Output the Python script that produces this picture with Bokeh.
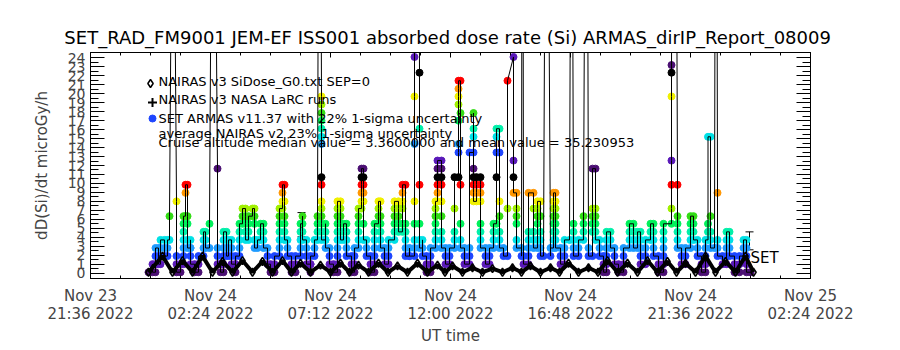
from bokeh.plotting import figure
from bokeh.models import FixedTicker, LinearAxis, Range1d, Label, Whisker, ColumnDataSource, TeeHead
from bokeh.embed import file_html
from bokeh.resources import INLINE

FONT = "DejaVu Sans"

# ---------------- data ----------------
# time axis: hours since 2022-11-23 21:36 UT
x_ticks = [0, 4.8, 9.6, 14.4, 19.2, 24, 28.8]
x_tick_labels = ["Nov 23\n21:36 2022", "Nov 24\n02:24 2022", "Nov 24\n07:12 2022",
                 "Nov 24\n12:00 2022", "Nov 24\n16:48 2022", "Nov 24\n21:36 2022",
                 "Nov 25\n02:24 2022"]
y_ticks = list(range(0, 25))

# NAIRAS v3 SiDose (orbit zig-zag)
nai_t = [2.32, 2.88, 3.28, 3.68, 4.08, 4.48, 4.88, 5.28, 5.68, 6.08, 6.48, 6.88, 7.28, 7.68,
         8.04, 8.4, 8.8, 9.2, 9.6, 10.0, 10.36, 10.72, 11.12, 11.52, 11.9, 12.28, 12.68, 13.08,
         13.48, 13.88, 14.18, 14.48, 14.88, 15.28, 15.68, 16.08, 16.48, 16.88, 17.24, 17.6, 18.0,
         18.4, 18.76, 19.12, 19.52, 19.92, 20.3, 20.68, 21.08, 21.48, 21.88, 22.28, 22.68, 23.08,
         23.44, 23.8, 24.2, 24.6, 25.0, 25.4, 25.8, 26.2, 26.52]
nai_v = [0.1, 1.9, 0.1, 1.4, 0.1, 1.9, 0.1, 1.3, 0.1, 1.4, 0.1, 1.3, 0.1, 1.4, 0.1, 1.1, 0.1,
         0.9, 0.1, 1.1, 0.1, 0.9, 0.1, 1.1, 0.1, 0.8, 0.1, 1.1, 0.1, 0.9, 0.1, 0.8, 0.1, 0.6,
         0.1, 0.5, 0.1, 0.6, 0.1, 0.8, 0.1, 0.6, 0.1, 1.1, 0.1, 0.6, 0.1, 1.4, 0.1, 1.1, 0.1,
         1.4, 0.1, 1.3, 0.1, 1.1, 0.1, 1.9, 0.1, 1.3, 0.1, 1.9, 0.1]

# SET ARMAS samples, grouped by time stamp (hours), values in microGy/h
arm_col_t = [2.32, 2.48, 2.6, 2.72, 2.8, 2.96, 3.08, 3.16, 3.3, 3.44, 3.6,
             3.72, 3.8, 3.88, 4.0, 4.16, 4.32,
             4.52, 4.6, 4.76, 4.9, 5.08, 5.2,
             5.32, 5.44, 5.52, 5.64, 5.8, 5.96,
             6.08, 6.2, 6.32, 6.48, 6.56, 6.68, 6.8, 6.92, 7.08, 7.2, 7.36,
             7.56, 7.68, 7.76, 7.88, 8.04, 8.2,
             8.4, 8.48, 8.64, 8.8, 8.96,
             9.08, 9.16, 9.24, 9.4, 9.56, 9.72,
             9.88, 10.0, 10.12, 10.24, 10.44, 10.56,
             10.72, 10.84, 10.92, 11.04, 11.2,
             11.36, 11.52, 11.6, 11.76, 11.92,
             12.16, 12.32, 12.48, 12.6, 12.76,
             12.96, 13.08, 13.16, 13.28, 13.44, 13.6,
             13.8, 13.88, 14.04, 14.2, 14.36,
             14.56, 14.72, 14.8, 14.96,
             15.16, 15.32, 15.44, 15.6, 15.8, 15.96,
             16.12, 16.24, 16.36, 16.52, 16.68, 16.92, 17.04,
             17.24, 17.28, 17.32,
             17.52, 17.72, 17.88, 18.0, 18.12, 18.24, 18.4,
             18.52, 18.6, 18.8, 18.96, 19.16, 19.24, 19.32, 19.52, 19.72, 19.84, 19.92,
             20.08, 20.2, 20.36, 20.52, 20.64, 20.8, 20.96, 21.12, 21.32, 21.56, 21.72, 21.88,
             22.0, 22.2, 22.4, 22.52, 22.72, 22.92,
             23.24, 23.36, 23.48, 23.64, 23.8, 24.0, 24.12, 24.28, 24.44, 24.6, 24.7, 24.8,
             24.96, 25.02, 25.08, 25.28, 25.44, 25.56, 25.76, 25.96, 26.12, 26.24, 26.4]
arm_col_v = [[0.1], [1.0, 0.1], [0.1, 1.0, 1.9, 2.8], [2.8, 1.9, 1.0], [1.0, 1.9, 2.8, 3.7],
             [3.7, 2.8, 1.9], [1.9, 2.8, 3.7], [3.7, 6.35], [60], [8.0, 1.9, 1.0, 0.1], [0.1, 1.0],
             [1.0, 1.9, 2.8, 3.7, 4.6, 5.5, 6.35], [6.35, 8.95, 9.85], [9.85, 6.35, 5.5, 3.7, 2.8],
             [2.8, 3.7, 2.8, 1.9, 1.0], [1.0, 0.1], [0.1, 1.0, 1.9],
             [1.9, 2.8, 3.7, 4.6], [4.6, 3.7, 2.8], [2.8, 5.5], [70], [11.65, 2.8, 1.9, 1.0], [1.0, 0.1],
             [0.1, 1.0, 1.9, 2.8, 3.7, 4.6], [4.6, 3.7, 2.8, 1.9], [1.9, 2.8, 3.7], [3.7, 2.8, 1.9, 1.0],
             [1.0, 0.1, 1.0, 1.9], [1.9, 2.8, 3.7, 4.6, 5.5],
             [5.5, 6.35, 7.2], [7.2, 6.35, 5.5, 4.6, 3.7], [3.7, 4.6, 5.5, 6.35], [6.35, 7.2],
             [7.2, 6.35, 5.5, 3.7, 2.8], [2.8, 3.7], [3.7, 4.6, 5.5], [5.5, 4.6, 3.7, 2.8],
             [2.8, 1.9, 1.0], [1.0, 0.1], [0.1, 1.0, 1.9],
             [1.9, 2.8, 3.7, 4.6, 5.5, 6.35, 7.2], [7.2, 8.0, 8.95, 9.85],
             [9.85, 8.0, 6.35, 5.5, 4.6, 3.7], [3.7, 2.8, 1.9], [1.9, 1.0, 0.1], [0.1, 1.0, 1.9],
             [1.9, 2.8, 3.7, 4.6, 5.5], [5.5, 6.35, 4.6, 3.7], [3.7, 2.8, 1.9, 1.0],
             [1.0, 0.1, 1.0, 1.9], [1.9, 2.8, 3.7],
             [3.7, 4.6, 5.5, 6.35], [80],
             [19.7, 18.8, 17.85, 17.0, 16.1, 15.2, 14.4, 10.7, 9.85, 8.0, 7.2, 6.35, 5.5, 4.6, 3.7],
             [3.7, 5.5, 4.6, 3.7, 2.8], [2.8, 1.9, 1.0], [1.0, 0.1],
             [0.1, 1.0, 1.9, 2.8, 3.7, 4.6, 5.5, 6.35, 7.2, 8.0], [8.0, 7.2, 6.35, 5.5, 4.6, 3.7],
             [3.7, 4.6, 5.5], [5.5, 4.6, 3.7, 2.8, 1.9], [1.9, 1.0, 0.1], [0.1, 1.0, 1.9, 2.8],
             [2.8, 3.7, 4.6, 5.5, 6.35, 7.2], [7.2, 8.0, 8.95, 9.85, 10.7, 11.65],
             [11.65, 10.7, 9.85, 8.95, 8.0, 5.5, 3.7], [3.7, 2.8, 1.9], [1.9, 1.0, 0.1],
             [0.1, 1.0, 1.9, 2.8, 3.7, 4.6, 5.5], [5.5, 6.35, 7.2, 8.0],
             [8.0, 6.35, 5.5, 4.6, 3.7, 2.8], [2.8, 1.9, 1.0], [1.0, 1.9, 2.8, 3.7],
             [3.7, 4.6, 5.5, 6.35, 7.2, 8.0], [8.0, 7.2, 6.35, 5.5, 4.6],
             [4.6, 5.5, 7.2, 8.0, 8.95, 9.85], [9.85, 5.5, 4.6, 3.7, 2.8, 1.9], [1.9, 2.8, 1.9],
             [1.9, 2.8, 3.7, 5.5, 8.0, 14.4, 19.7, 24.1], [90], [22.35, 16.1, 9.85, 5.5, 3.7, 2.8],
             [2.8, 3.7, 1.9], [1.9, 1.0, 0.1], [0.1, 1.0, 1.9, 2.8],
             [2.8, 3.7, 4.6, 5.5, 6.35, 7.2, 8.0], [8.0, 8.95, 9.85, 10.7, 11.65, 12.55],
             [12.55, 11.65, 10.7, 9.85, 8.0, 6.35, 4.6, 3.7, 2.8], [2.8, 1.9, 1.0], [1.0, 1.9, 2.8],
             [2.8, 3.7, 4.6, 7.2, 10.7], [10.7, 13.45, 14.4, 17.0, 18.8, 19.7, 20.55, 21.45],
             [21.45, 17.85, 9.85, 5.5, 3.7, 2.8], [2.8, 1.9, 1.0],
             [1.0, 1.9, 2.8, 13.45], [13.45, 15.2, 16.1, 17.85, 11.65, 10.7, 9.85, 8.95, 8.0],
             [8.0, 8.95, 9.85, 10.7], [10.7, 9.85, 8.95, 8.0, 5.5, 4.6, 3.7, 2.8], [2.8, 1.9, 1.0],
             [1.0, 1.9, 2.8],
             [2.8, 3.7, 4.6, 5.5], [5.5, 10.7, 13.45, 15.2, 16.1], [16.1, 13.45, 8.0, 6.35, 4.6, 3.7, 2.8],
             [2.8, 1.9], [1.9, 7.2, 21.45], [24.1, 12.55, 10.7, 8.95], [8.95, 7.2, 6.35, 5.5, 3.7, 2.8],
             [2.8, 1.9], [85], [1.9, 1.0],
             [1.0, 1.9, 2.8, 3.7, 4.6, 8.95], [8.95, 7.2, 4.6, 3.7, 2.8], [2.8, 3.7, 5.5, 6.35, 7.2, 8.0],
             [8.0, 6.35, 4.6, 3.7, 2.8, 1.9], [1.9], [75], [1.9, 2.8],
             [2.8, 3.7, 4.6, 5.5, 6.35, 7.2, 8.0, 8.95], [8.95, 8.0, 7.2, 6.35, 5.5, 4.6, 3.7, 2.8],
             [2.8, 1.9, 1.0], [1.0, 1.9, 2.8, 3.7], [3.7], [70], [5.5, 4.6, 3.7, 2.8, 1.9],
             [1.9, 2.8, 3.7], [3.7, 4.6, 5.5, 6.35], [80], [2.8, 1.9],
             [1.9, 4.6, 5.5, 6.35, 7.2, 11.65], [11.65, 7.2, 6.35, 5.5, 4.6, 3.7], [3.7, 2.8, 1.9],
             [1.9, 1.0, 0.1], [0.1, 1.0, 1.9, 2.8, 3.7, 4.6], [4.6, 3.7, 2.8], [2.8, 1.9, 1.0],
             [1.0, 0.1], [0.1, 1.0, 1.9, 2.8], [2.8, 3.7, 4.6, 5.5], [5.5, 4.6, 3.7, 2.8], [2.8, 3.7, 4.6],
             [4.6, 3.7, 2.8, 1.9, 1.0], [1.0, 1.9, 2.8, 3.7], [3.7, 4.6, 5.5], [5.5, 4.6, 3.7, 2.8, 1.9],
             [1.9, 1.0, 0.1], [0.1, 1.0, 1.9, 2.8, 3.7, 4.6, 5.5],
             [5.5, 7.2, 9.85, 12.55, 19.7, 22.35, 23.2], [95], [9.85, 6.35, 5.5, 4.6, 3.7, 2.8],
             [2.8, 1.9, 1.0], [1.0, 1.9, 2.8], [2.8, 3.7, 4.6, 5.5, 6.35], [6.35, 5.5, 4.6, 3.7],
             [3.7, 2.8, 1.9], [1.9, 1.0, 0.1], [0.1, 1.0, 1.9, 2.8, 3.7], [3.7, 4.6, 5.5, 15.2],
             [15.2, 6.35, 4.6, 3.7, 2.8],
             [2.8], [90], [8.95, 3.7, 2.8, 1.9], [1.9, 1.0], [1.0, 1.9, 2.8, 3.7, 4.6],
             [4.6, 3.7, 2.8, 1.9], [1.9, 1.0, 0.1], [0.1, 1.0, 1.9], [1.9, 2.8, 3.7],
             [3.7, 2.8, 1.9, 1.0, 0.1], [0.1]]

# uncertainty bars (center, half-width) and where they are drawn
err_t = [8.44, 26.36]
err_c = [5.4, 3.6]
err_h = [1.35, 1.0]

title_text = "SET_RAD_FM9001  JEM-EF ISS001 absorbed dose rate (Si) ARMAS_dirIP_Report_08009"
legend_lines = ["NAIRAS v3 SiDose_G0.txt SEP=0",
                "NAIRAS v3 NASA LaRC runs",
                "SET ARMAS v11.37 with 22% 1-sigma uncertainty",
                "average NAIRAS v2 23% 1-sigma uncertainty",
                "Cruise altitude median value = 3.3600000 and mean value = 35.230953"]

# colour table cycling with dose level (IDL-style)
palette = ["#4b0f73", "#5a19b9", "#1e46ff", "#1e9bff", "#00e1e6", "#00f0aa", "#00f05a",
           "#32dc14", "#a0f000", "#f0f000", "#ff9600", "#ff0000", "#000000"]
LEVEL_STEP = 0.885

arm_t, arm_v = [], []
for t, vals in zip(arm_col_t, arm_col_v):
    for v in vals:
        arm_t.append(t)
        arm_v.append(v)
arm_c = [palette[int(round((v - 0.1) / LEVEL_STEP)) % len(palette)] for v in arm_v]

# ---------------- figure ----------------
p = figure(width=900, height=350, output_backend="svg", toolbar_location=None,
           x_range=Range1d(0, 28.8), y_range=Range1d(-0.6, 24.6),
           min_border_left=90, min_border_right=90, min_border_top=52, min_border_bottom=72)
p.xgrid.visible = False
p.ygrid.visible = False
p.outline_line_color = "black"
p.outline_line_width = 1

p.title.text = title_text
p.title.align = "center"
p.title.text_font = FONT
p.title.text_font_size = "18px"
p.title.text_font_style = "normal"
p.title.text_color = "black"

x_minor = [i * 1.2 for i in range(0, 25)]
y_minor = [i * 0.5 for i in range(0, 49)]

xa = p.xaxis[0]
xa.ticker = FixedTicker(ticks=x_ticks, minor_ticks=x_minor)
xa.major_label_overrides = {t: s for t, s in zip(x_ticks, x_tick_labels)}
xa.major_label_text_font = FONT
xa.major_label_text_font_size = "15px"
xa.major_label_text_line_height = 1.0
xa.major_label_standoff = 8
xa.major_tick_in = 5
xa.major_tick_out = 0
xa.minor_tick_in = 3
xa.minor_tick_out = 0
xa.axis_label = "UT time"
xa.axis_label_text_font = FONT
xa.axis_label_text_font_size = "15px"
xa.axis_label_text_font_style = "normal"
xa.axis_label_standoff = 1

ya = p.yaxis[0]
ya.ticker = FixedTicker(ticks=y_ticks, minor_ticks=y_minor)
ya.major_label_text_font = FONT
ya.major_label_text_font_size = "14px"
ya.major_label_standoff = 5
ya.major_tick_in = 14
ya.major_tick_out = 0
ya.minor_tick_in = 8
ya.minor_tick_out = 0
ya.axis_label = "dD(Si)/dt microGy/h"
ya.axis_label_text_font = FONT
ya.axis_label_text_font_size = "15px"
ya.axis_label_text_font_style = "normal"
ya.axis_label_standoff = 14

top = LinearAxis(ticker=FixedTicker(ticks=x_ticks, minor_ticks=x_minor),
                 major_label_text_font_size="1px", major_label_text_color=None,
                 major_tick_in=5, major_tick_out=0,
                 minor_tick_in=3, minor_tick_out=0, major_label_standoff=0)
p.add_layout(top, "above")
right = LinearAxis(ticker=FixedTicker(ticks=y_ticks, minor_ticks=y_minor),
                   major_label_text_font_size="1px", major_label_text_color=None,
                   major_tick_in=14, major_tick_out=0,
                   minor_tick_in=8, minor_tick_out=0, major_label_standoff=0)
p.add_layout(right, "right")

# ARMAS dots and connecting line
p.scatter(arm_t, arm_v, marker="circle", size=7, fill_color=arm_c, line_color=arm_c)
p.line(arm_t, arm_v, line_color="black", line_width=1)

# NAIRAS zig-zag with diamonds
p.line(nai_t, nai_v, line_color="black", line_width=4)
p.scatter(nai_t, nai_v, marker="diamond", size=8, fill_color=None, line_color="black", line_width=1.5)

# uncertainty bars
es = ColumnDataSource(dict(t=err_t, lo=[c - h for c, h in zip(err_c, err_h)],
                           hi=[c + h for c, h in zip(err_c, err_h)]))
p.add_layout(Whisker(source=es, base="t", lower="lo", upper="hi", dimension="height",
                     line_color="black", line_width=1,
                     upper_head=TeeHead(size=8, line_color="black"),
                     lower_head=TeeHead(size=8, line_color="black")))
p.add_layout(Label(x=26.4, y=1.7, text="SET", text_font=FONT, text_font_size="15px",
                   text_baseline="middle", text_color="black"))

# legend block
p.scatter([2.4], [21.14], marker="diamond", size=8, fill_color=None, line_color="black", line_width=1.5)
p.scatter([2.48], [19.02], marker="cross", size=9, line_color="black", line_width=2)
p.scatter([2.48], [17.24], marker="circle", size=7, fill_color="#1e46ff", line_color="#1e46ff")
leg_y = [21.36, 19.36, 17.24, 15.56, 14.56]
for txt, yy in zip(legend_lines, leg_y):
    p.add_layout(Label(x=2.72, y=yy, text=txt, text_font=FONT, text_font_size="13px",
                       text_baseline="middle", text_color="black"))

open("out.html", "w").write(file_html(p, INLINE))
